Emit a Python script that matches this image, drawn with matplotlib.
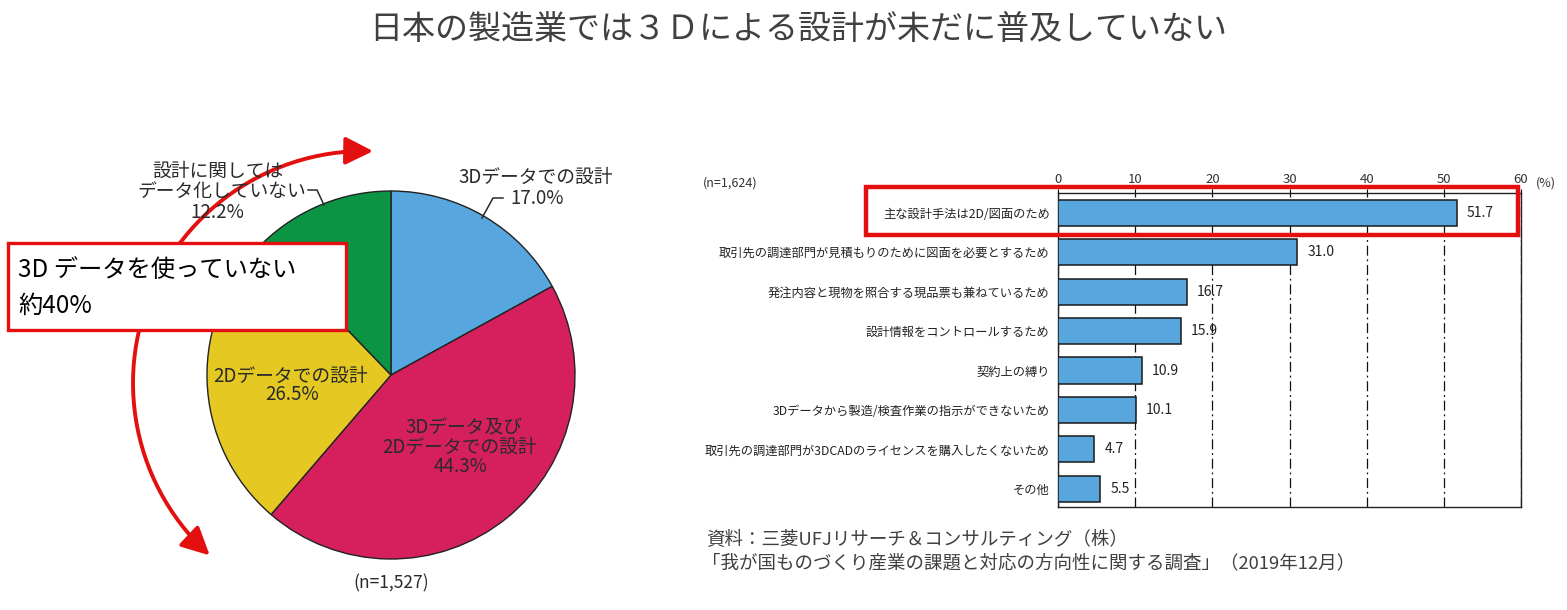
import numpy as np
import matplotlib.pyplot as plt
from matplotlib.patches import Rectangle, FancyArrowPatch
from matplotlib.path import Path

plt.rcParams['font.family'] = ['Noto Sans CJK JP', 'DejaVu Sans']

W, H = 1567, 610

# pie data (clockwise from top)
pie_labels = ['3Dデータでの設計', '3Dデータ及び\n2Dデータでの設計', '2Dデータでの設計', '設計に関しては\nデータ化していない']
pie_values = [17.0, 44.3, 26.5, 12.2]
pie_colors = ['#58a6de', '#d6205e', '#e5c922', '#0b9444']

# bar data (top to bottom)
bar_labels = [
    '主な設計手法は2D/図面のため',
    '取引先の調達部門が見積もりのために図面を必要とするため',
    '発注内容と現物を照合する現品票も兼ねているため',
    '設計情報をコントロールするため',
    '契約上の縛り',
    '3Dデータから製造/検査作業の指示ができないため',
    '取引先の調達部門が3DCADのライセンスを購入したくないため',
    'その他',
]
bar_values = [51.7, 31.0, 16.7, 15.9, 10.9, 10.1, 4.7, 5.5]
bar_ticks = [0, 10, 20, 30, 40, 50, 60]


def fx(x):
    return x / W


def fy(y):
    return 1 - y / H


fig = plt.figure(figsize=(W / 100, H / 100), dpi=100)

fig.text(fx(798), fy(29), '日本の製造業では３Ｄによる設計が未だに普及していない',
         ha='center', va='center', fontsize=23.8, color='#404040')

# ---- pie ----
r = 184
ax_p = fig.add_axes([fx(391 - r), fy(375 + r), 2 * r / W, 2 * r / H])
ax_p.pie(pie_values, colors=pie_colors, startangle=90, counterclock=False,
         wedgeprops=dict(edgecolor='#222222', linewidth=1.0))
ax_p.set_aspect('auto')
ax_p.set_xlim(-1, 1)
ax_p.set_ylim(-1, 1)
ax_p.axis('off')

tc = '#2a2a2a'
fs = 13.5
fig.text(fx(536), fy(177), pie_labels[0], ha='center', va='center', fontsize=fs, color=tc)
fig.text(fx(537), fy(198), f'{pie_values[0]:.1f}%', ha='center', va='center', fontsize=fs, color=tc)
fig.add_artist(plt.Line2D([fx(503), fx(493), fx(482)], [fy(198), fy(198), fy(218)],
                          color=tc, lw=1.1, transform=fig.transFigure))

l1, l2 = pie_labels[1].split('\n')
fig.text(fx(464), fy(428), l1, ha='center', va='center', fontsize=fs, color=tc)
fig.text(fx(460), fy(447), l2, ha='center', va='center', fontsize=fs, color=tc)
fig.text(fx(461), fy(467), f'{pie_values[1]:.1f}%', ha='center', va='center', fontsize=fs, color=tc)

fig.text(fx(291), fy(376), pie_labels[2], ha='center', va='center', fontsize=fs, color=tc)
fig.text(fx(292), fy(395), f'{pie_values[2]:.1f}%', ha='center', va='center', fontsize=fs, color=tc)

g1, g2 = pie_labels[3].split('\n')
fig.text(fx(218), fy(171), g1, ha='center', va='center', fontsize=fs, color=tc)
fig.text(fx(222), fy(191), g2, ha='center', va='center', fontsize=fs, color=tc)
fig.text(fx(217), fy(212), f'{pie_values[3]:.1f}%', ha='center', va='center', fontsize=fs, color=tc)
fig.add_artist(plt.Line2D([fx(308), fx(317), fx(324)], [fy(190), fy(190), fy(205)],
                          color=tc, lw=1.1, transform=fig.transFigure))

fig.text(fx(391), fy(583), '(n=1,527)', ha='center', va='center', fontsize=12.5, color=tc)

# red arc arrow
cx, cy, rr = 365, 383, 232
ang = np.radians(np.linspace(88, 228, 60))
px = cx + rr * np.cos(ang)
py = cy - rr * np.sin(ang)
verts = list(zip(fx(px), fy(py)))
arc = FancyArrowPatch(path=Path(verts), arrowstyle='<|-|>,head_length=1.0,head_width=0.5',
                      mutation_scale=17, color='#e41010', lw=2.8,
                      transform=fig.transFigure, zorder=1.5)
fig.add_artist(arc)

# callout box
fig.add_artist(Rectangle((fx(8), fy(330)), fx(346 - 8), (330 - 243) / H,
                         facecolor='white', edgecolor='#e41010', lw=2.4,
                         transform=fig.transFigure, zorder=2))
fig.text(fx(18), fy(270), '3D データを使っていない', ha='left', va='center',
         fontsize=17.5, color='black', zorder=3)
fig.text(fx(18), fy(306), '約40%', ha='left', va='center',
         fontsize=17.5, color='black', zorder=3)

# ---- bar chart ----
ax = fig.add_axes([fx(1058), fy(507), (1521 - 1058) / W, (507 - 193) / H])
y = np.arange(len(bar_values))
ax.barh(y, bar_values, height=0.66, color='#58a6de', edgecolor='#1a1a1a', lw=1.1, zorder=3)
ax.set_xlim(0, 60)
ax.set_ylim(len(bar_values) - 0.54, -0.5)
ax.xaxis.tick_top()
ax.set_xticks(bar_ticks)
ax.tick_params(axis='x', labelsize=9.5, labelcolor='#333333', length=3, width=0.8, pad=2)
ax.set_yticks(y)
ax.set_yticklabels(bar_labels, fontsize=8.8, color='#222222')
ax.tick_params(axis='y', length=0, pad=6)
ax.grid(axis='x', color='#111111', linestyle=(0, (8, 3, 1.5, 3)), lw=0.9, zorder=1)
for s in ax.spines.values():
    s.set_color('#222222')
    s.set_linewidth(1.0)
for yi, v in zip(y, bar_values):
    ax.text(v + 1.3, yi, f'{v:.1f}', va='center', ha='left', fontsize=10, color='#222222')

fig.text(fx(703), fy(183), '(n=1,624)', ha='left', va='center', fontsize=9, color='#333333')
fig.text(fx(1536), fy(183), '(%)', ha='left', va='center', fontsize=9, color='#333333')

fig.add_artist(Rectangle((fx(866), fy(235)), fx(1518 - 866), (235 - 187) / H,
                         facecolor='none', edgecolor='#e41010', lw=3.2,
                         transform=fig.transFigure, zorder=5))

fig.text(fx(706), fy(540), '資料：三菱UFJリサーチ＆コンサルティング（株）',
         ha='left', va='center', fontsize=13.3, color='#404040')
fig.text(fx(702), fy(563), '「我が国ものづくり産業の課題と対応の方向性に関する調査」（2019年12月）',
         ha='left', va='center', fontsize=13.3, color='#404040')

fig.savefig('out.png', dpi=100)
